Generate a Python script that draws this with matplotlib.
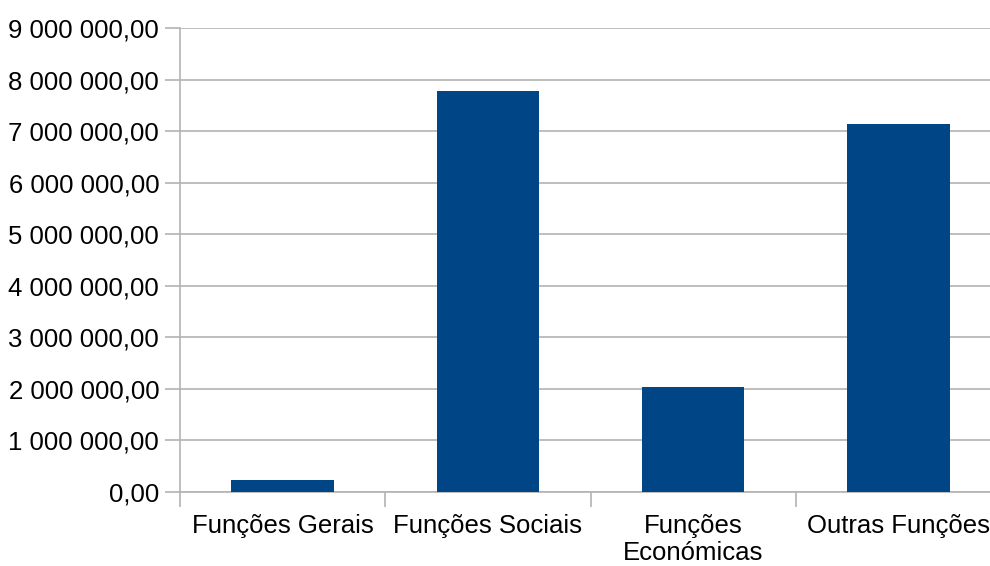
import matplotlib
matplotlib.use("Agg")
import matplotlib.pyplot as plt
from matplotlib.ticker import FuncFormatter, FixedLocator

plt.rcParams['font.family'] = ['Liberation Sans', 'DejaVu Sans']

categorias = ["Funções Gerais", "Funções Sociais", "Funções\nEconómicas", "Outras Funções"]
valores = [227000, 7777000, 2032000, 7137000]
y_ticks = [0, 1000000, 2000000, 3000000, 4000000, 5000000, 6000000, 7000000, 8000000, 9000000]

COR_BARRA = "#004586"
COR_EIXO = "#b3b3b3"


def formato_pt(v, pos=None):
    # 1234567.8 -> "1 234 567,80"
    s = f"{v:,.2f}"
    return s.replace(",", " ").replace(".", ",")


fig = plt.figure(figsize=(9.9, 5.66), dpi=100)
ax = fig.add_axes([180 / 990, 1 - 491.7 / 566, (1001 - 180) / 990, (491.7 - 28) / 566])

x = list(range(len(categorias)))
ax.bar(x, valores, width=0.5, color=COR_BARRA, zorder=3)

ax.set_xlim(-0.5, len(categorias) - 0.5)
ax.set_ylim(0, 9000000)
ax.set_yticks(y_ticks)
ax.yaxis.set_major_formatter(FuncFormatter(formato_pt))
ax.grid(axis='y', color=COR_EIXO, linewidth=1.2, zorder=0)

# marcas do eixo x nos limites das categorias, rótulos no centro
ax.xaxis.set_major_locator(FixedLocator([i - 0.5 for i in range(len(categorias) + 1)]))
ax.xaxis.set_minor_locator(FixedLocator(x))
ax.set_xticklabels([""] * (len(categorias) + 1))
ax.set_xticklabels(categorias, minor=True)
ax.tick_params(axis='x', which='major', length=11, width=1.2, color=COR_EIXO, direction='out')
ax.tick_params(axis='x', which='minor', length=0, pad=16, labelsize=18.5)
ax.tick_params(axis='y', length=11, width=1.2, color=COR_EIXO, direction='out', pad=4, labelsize=18.5)

for side in ['top', 'right']:
    ax.spines[side].set_visible(False)
for side in ['left', 'bottom']:
    ax.spines[side].set_color(COR_EIXO)
    ax.spines[side].set_linewidth(1.2)

for lbl in ax.get_xticklabels(minor=True):
    lbl.set_linespacing(1.18)

fig.savefig("out.png", dpi=100, facecolor="white")
